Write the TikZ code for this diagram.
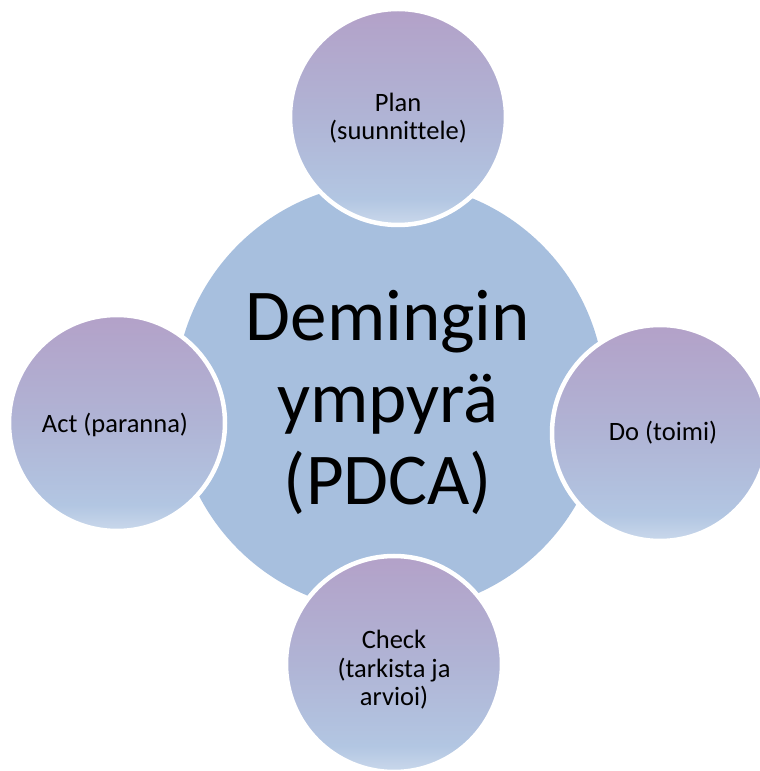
\documentclass[tikz,border=0pt]{standalone}
\usepackage{fontspec}
\setmainfont{Carlito}[Ligatures={NoCommon}]
\definecolor{mainblue}{RGB}{167,191,222}
\definecolor{satbot}{RGB}{202,216,235}
\definecolor{satlow}{RGB}{178,198,226}
\definecolor{satmid}{RGB}{176,180,213}
\definecolor{sattop}{RGB}{179,161,200}
\pgfdeclareverticalshading{satshade}{100bp}{color(0bp)=(satbot); color(25bp)=(satbot); color(31bp)=(satlow); color(50bp)=(satmid); color(75bp)=(sattop); color(100bp)=(sattop)}
\tikzset{
  hub/.style={circle, fill=mainblue, draw=none, minimum size=430pt, inner sep=0pt, outer sep=0pt},
  sat/.style={circle, shading=satshade, draw=white, line width=4.5pt, minimum size=216pt, inner sep=0pt, outer sep=0pt},
  small/.style={align=center, font=\fontsize{26.5}{28.5}\selectfont, text=black, inner sep=0pt},
  big/.style={align=center, font=\fontsize{73}{82}\selectfont, text=black, inner sep=0pt}
}
\begin{document}
\begin{tikzpicture}[x=1pt,y=1pt]
\useasboundingbox (0,0) rectangle (760,771);
\node[hub] (hub) at (390,374) {};
\node[big] (hubtxt) at (388,369) {Demingin\\ympyrä\\(PDCA)};
\node[sat] (plan) at (398,654) {};
\node[small] (plantxt) at (398,653) {Plan\\(suunnittele)};
\node[sat] (do) at (660,338) {};
\node[small] (dotxt) at (663,338) {Do (toimi)};
\node[sat] (check) at (394,107) {};
\node[small] (checktxt) at (394,101) {Check\\(tarkista ja\\arvioi)};
\node[sat] (act) at (117,348) {};
\node[small] (acttxt) at (115,346) {Act (paranna)};
\end{tikzpicture}
\end{document}
